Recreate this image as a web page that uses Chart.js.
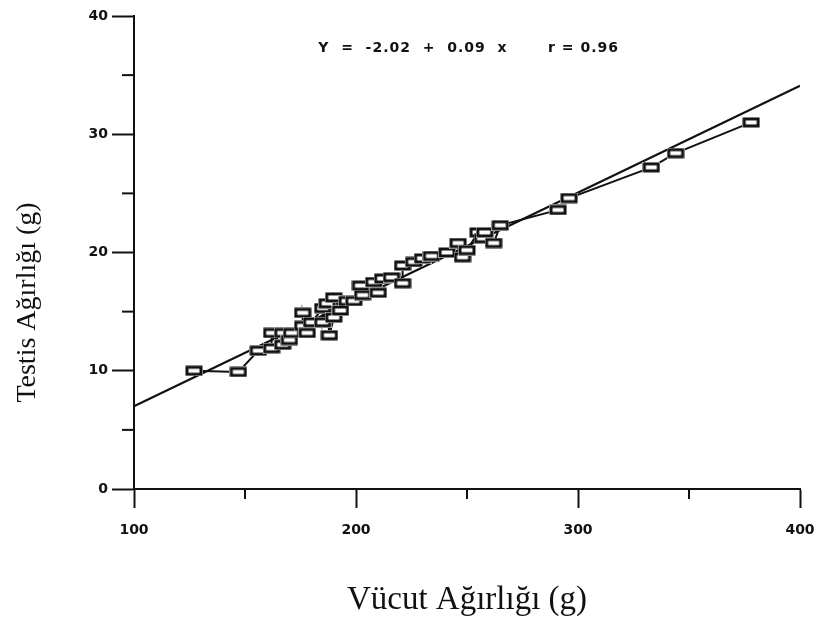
<!DOCTYPE html>
<html>
<head>
<meta charset="utf-8">
<script src="https://cdn.jsdelivr.net/npm/chart.js@4.4.1/dist/chart.umd.min.js"></script>
<style>
  html, body { margin: 0; padding: 0; background: #fff; }
  #wrap { width: 814px; height: 628px; }
</style>
</head>
<body>
<div id="wrap"><canvas id="scatter" width="814" height="628"></canvas></div>
<script>
// body weight (g) vs testis weight (g)
const bodyWeight = [127, 147, 156, 162, 162, 167, 167, 170, 171, 176, 176, 178, 180, 185, 185, 187, 188, 190, 190, 193,
    196, 199, 202, 203, 208, 210, 212, 216, 221, 221, 226, 230, 234, 241, 246, 248, 250, 255, 257, 258,
    262, 265, 291, 296, 333, 344, 378];
const testisWeight = [10.0, 9.9, 11.7, 11.9, 13.2, 12.2, 13.2, 12.6, 13.2, 13.8, 14.9, 13.2, 14.1, 15.3, 14.1, 15.7, 13.0, 14.5, 16.2, 15.1,
    15.9, 15.9, 17.2, 16.4, 17.5, 16.6, 17.8, 17.9, 17.4, 18.9, 19.2, 19.5, 19.7, 20.0, 20.8, 19.6, 20.2, 21.7, 21.2, 21.7,
    20.8, 22.3, 23.6, 24.6, 27.2, 28.4, 31.0];

// regression line end points
const fitX = [100, 400];
const fitY = [7.0, 34.1];

const xTicks = [100, 200, 300, 400];
const yTicks = [0, 10, 20, 30, 40];
const xMinor = [150, 250, 350];
const yMinor = [5, 15, 25, 35];

const equationLeft = 'Y  =  -2.02  +  0.09  x';
const equationRight = 'r = 0.96';

// wide rectangle marker like the original plot
const marker = document.createElement('canvas');
marker.width = 18;
marker.height = 11;
const mctx = marker.getContext('2d');
mctx.fillStyle = '#fff';
mctx.fillRect(0, 0, 18, 11);
mctx.fillStyle = '#111';
mctx.fillRect(0.5, 0.5, 17, 10);
mctx.fillStyle = '#fff';
mctx.fillRect(3.5, 3.5, 11, 4);

const points = bodyWeight.map((x, i) => ({ x: x, y: testisWeight[i] }));
const fitLine = fitX.map((x, i) => ({ x: x, y: fitY[i] }));

const extras = {
    id: 'extras',
    afterDraw(chart) {
        const c = chart.ctx;
        const xs = chart.scales.x, ys = chart.scales.y;
        const area = chart.chartArea;
        c.save();
        c.strokeStyle = '#111';
        c.lineWidth = 2;
        // minor ticks
        yMinor.forEach(v => {
            const py = ys.getPixelForValue(v);
            c.beginPath();
            c.moveTo(area.left - 12, py);
            c.lineTo(area.left, py);
            c.stroke();
        });
        xMinor.forEach(v => {
            const px = xs.getPixelForValue(v);
            c.beginPath();
            c.moveTo(px, area.bottom);
            c.lineTo(px, area.bottom + 10);
            c.stroke();
        });
        // equation
        c.fillStyle = '#111';
        c.font = 'bold 14px "DejaVu Sans"';
        c.letterSpacing = '1px';
        c.textAlign = 'left';
        c.textBaseline = 'middle';
        const eqY = ys.getPixelForValue(37.3);
        c.fillText(equationLeft, xs.getPixelForValue(183), eqY);
        c.fillText(equationRight, xs.getPixelForValue(286.5), eqY);
        c.letterSpacing = '0px';
        // y axis title
        c.font = '28px "Liberation Serif"';
        c.textAlign = 'center';
        c.translate(28, (area.top + area.bottom) / 2 + 50);
        c.rotate(-Math.PI / 2);
        c.fillText('Testis Ağırlığı (g)', 0, 0);
        c.restore();
    }
};

const ctx = document.getElementById('scatter').getContext('2d');
const chart = new Chart(ctx, {
    type: 'scatter',
    data: {
        datasets: [{
            label: 'Testis',
            data: points,
            showLine: true,
            borderColor: '#111',
            borderWidth: 2,
            pointStyle: marker,
            pointRadius: 5,
            order: 0
        }, {
            label: 'Fit',
            data: fitLine,
            showLine: true,
            borderColor: '#111',
            borderWidth: 2,
            pointRadius: 0,
            order: 1
        }]
    },
    options: {
        responsive: false,
        devicePixelRatio: 1,
        animation: false,
        layout: {
            padding: { top: 16, right: 14, left: 0, bottom: 0 }
        },
        plugins: {
            legend: { display: false },
            tooltip: { enabled: false }
        },
        scales: {
            x: {
                type: 'linear',
                min: 100,
                max: 400,
                afterFit: (scale) => {
                    scale.height = 139;
                    scale.paddingLeft = 0;
                    scale.paddingRight = 0;
                },
                border: { display: true, color: '#111', width: 2 },
                grid: {
                    drawOnChartArea: false,
                    tickLength: 19,
                    tickWidth: 2,
                    tickColor: (c) => xTicks.includes(c.tick && c.tick.value) ? '#111' : 'rgba(0,0,0,0)'
                },
                ticks: {
                    stepSize: 50,
                    padding: 14,
                    maxRotation: 0,
                    autoSkip: false,
                    color: '#111',
                    font: { family: 'DejaVu Sans', size: 14, weight: 'bold' },
                    callback: (v) => xTicks.includes(v) ? String(v) : ''
                },
                title: {
                    display: true,
                    text: 'Vücut Ağırlığı (g)',
                    color: '#111',
                    font: { family: 'Liberation Serif', size: 33 },
                    padding: { top: 0, bottom: 8 }
                }
            },
            y: {
                type: 'linear',
                min: 0,
                max: 40,
                afterFit: (scale) => {
                    scale.width = 134;
                    scale.paddingTop = 0;
                    scale.paddingBottom = 0;
                },
                border: { display: true, color: '#111', width: 2 },
                grid: {
                    drawOnChartArea: false,
                    tickLength: 22,
                    tickWidth: 2,
                    tickColor: (c) => yTicks.includes(c.tick && c.tick.value) ? '#111' : 'rgba(0,0,0,0)'
                },
                ticks: {
                    stepSize: 5,
                    padding: 4,
                    autoSkip: false,
                    color: '#111',
                    font: { family: 'DejaVu Sans', size: 14, weight: 'bold' },
                    callback: (v) => yTicks.includes(v) ? String(v) : ''
                }
            }
        }
    },
    plugins: [extras]
});
</script>
</body>
</html>
